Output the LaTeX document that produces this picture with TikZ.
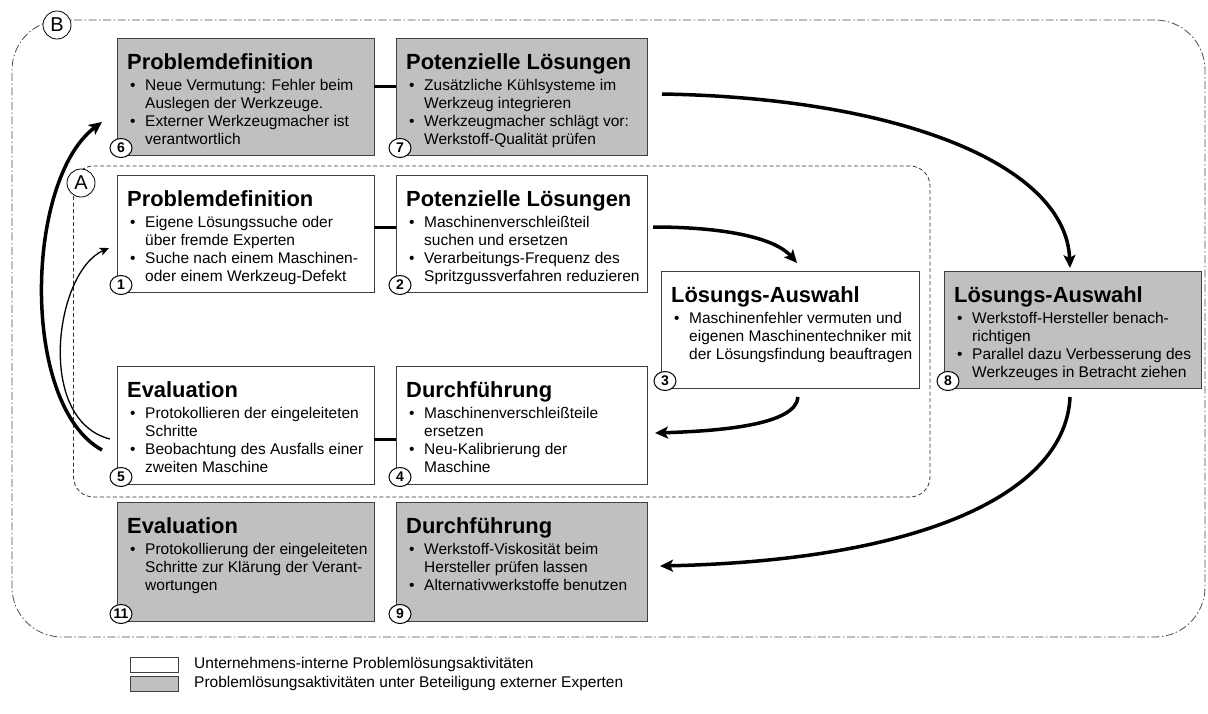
\documentclass[tikz,border=0pt]{standalone}
\usepackage{fontspec}
\setmainfont{Liberation Sans}
\usetikzlibrary{arrows.meta,shapes.geometric}
\newcommand{\tfont}{\fontsize{21.9}{24}\selectfont\bfseries}
\newcommand{\bfont}{\fontsize{15.5}{18}\selectfont}
\newcommand{\bul}{\hspace*{3pt}\makebox[15pt][l]{•}}
\newcommand{\cnt}{\hspace*{18pt}}
\newcommand{\mkbox}[9]{%
  \node[#6, minimum width=#4pt, minimum height=#5pt, anchor=north west] (#1) at (#2,#3) {};
  \node[anchor=base west, inner sep=0pt, font=\tfont] (#1t) at ([xshift=10pt,yshift=-31pt]#1.north west) {#7};
  \node[anchor=base west, inner sep=0pt] (#1b) at ([xshift=10pt,yshift=-52pt]#1.north west) {\parbox[t]{#4pt}{\bfont\raggedright #8}};
  \node[numc] (#1n) at ([xshift=4pt,yshift=7pt]#1.south west) {#9};
}
\definecolor{boxgray}{HTML}{C0C0C0}
\definecolor{edge}{HTML}{404040}
\begin{document}
\begin{tikzpicture}[x=1pt,y=-1pt,
  ibox/.style={draw=edge, fill=white, line width=1pt, inner sep=0pt, outer sep=0pt},
  ebox/.style={draw=edge, fill=boxgray, line width=1pt, inner sep=0pt, outer sep=0pt},
  numc/.style={ellipse, draw=black, fill=white, line width=1pt, minimum width=22pt, minimum height=19pt, inner sep=0pt, font=\fontsize{14}{14}\selectfont\bfseries},
  letc/.style={circle, draw=black, fill=white, line width=0.8pt, minimum size=28pt, inner sep=0pt, font=\fontsize{20}{20}\selectfont},
  regA/.style={draw=black!80, line width=0.8pt, dash pattern=on 4pt off 2.5pt, rounded corners=20pt, inner sep=0pt, outer sep=0pt},
  regB/.style={draw=black!70, line width=0.8pt, dash pattern=on 8pt off 2.5pt on 1.5pt off 2.5pt, rounded corners=50pt, inner sep=0pt, outer sep=0pt},
  conn/.style={line width=3pt},
  bigarrow/.style={line width=3.5pt, -{Stealth[length=13pt,width=12pt,inset=3pt]}},
  thinarrow/.style={line width=1.3pt, -{Stealth[length=9pt,width=8pt,inset=2pt]}},
  legtext/.style={anchor=west, inner sep=0pt, font=\bfont}
]
\useasboundingbox (0,0) rectangle (1208,713);

% regions
\node[regB, minimum width=1193pt, minimum height=617pt, anchor=north west] (B) at (12,20) {};
\node[regA, minimum width=856.5pt, minimum height=331pt, anchor=north west] (A) at (73.5,166) {};

% boxes
\mkbox{b6}{117}{38}{257}{117}{ebox}{Problemdefinition}{\bul Neue Vermutung: Fehler beim\\ \cnt Auslegen der Werkzeuge.\\ \bul Externer Werkzeugmacher ist\\ \cnt verantwortlich}{6}
\mkbox{b7}{396}{38}{251}{117}{ebox}{Potenzielle Lösungen}{\bul Zusätzliche Kühlsysteme im\\ \cnt Werkzeug integrieren\\ \bul Werkzeugmacher schlägt vor:\\ \cnt Werkstoff-Qualität prüfen}{7}
\mkbox{b1}{117}{175}{257}{117}{ibox}{Problemdefinition}{\bul Eigene Lösungssuche oder\\ \cnt über fremde Experten\\ \bul Suche nach einem Maschinen-\\ \cnt oder einem Werkzeug-Defekt}{1}
\mkbox{b2}{396}{175}{251}{117}{ibox}{Potenzielle Lösungen}{\bul Maschinenverschleißteil\\ \cnt suchen und ersetzen\\ \bul Verarbeitungs-Frequenz des\\ \cnt Spritzgussverfahren reduzieren}{2}
\mkbox{b3}{661}{271}{258}{117}{ibox}{Lösungs-Auswahl}{\bul Maschinenfehler vermuten und\\ \cnt eigenen Maschinentechniker mit\\ \cnt der Lösungsfindung beauftragen}{3}
\mkbox{b8}{944}{271}{257}{117}{ebox}{Lösungs-Auswahl}{\bul Werkstoff-Hersteller benach-\\ \cnt richtigen\\ \bul Parallel dazu Verbesserung des\\ \cnt Werkzeuges in Betracht ziehen}{8}
\mkbox{b5}{117}{366}{257}{118}{ibox}{Evaluation}{\bul Protokollieren der eingeleiteten\\ \cnt Schritte\\ \bul Beobachtung des Ausfalls einer\\ \cnt zweiten Maschine}{5}
\mkbox{b4}{396}{366}{251}{118}{ibox}{Durchführung}{\bul Maschinenverschleißteile\\ \cnt ersetzen\\ \bul Neu-Kalibrierung der\\ \cnt Maschine}{4}
\mkbox{b11}{117}{502}{257}{119}{ebox}{Evaluation}{\bul Protokollierung der eingeleiteten\\ \cnt Schritte zur Klärung der Verant-\\ \cnt wortungen}{11}
\mkbox{b9}{396}{502}{251}{119}{ebox}{Durchführung}{\bul Werkstoff-Viskosität beim\\ \cnt Hersteller prüfen lassen\\ \bul Alternativwerkstoffe benutzen}{9}

% region labels
\node[letc] (cB) at (57,25) {B};
\node[letc] (cA) at (81,183) {A};

% connectors between boxes
\draw[conn] ([yshift=10.5pt]b6.east) -- ([yshift=10.5pt]b7.west);
\draw[conn] ([yshift=6.5pt]b1.east) -- ([yshift=6.5pt]b2.west);
\draw[conn] ([yshift=-14pt]b5.east) -- ([yshift=-14pt]b4.west);

% arrow end points
\coordinate (s78) at (662,94);
\coordinate (e78) at (1070,268);
\coordinate (s23) at (653,227);
\coordinate (e23) at (797,263);
\coordinate (s34) at (798,397);
\coordinate (e34) at (655,433);
\coordinate (s89) at (1070,397);
\coordinate (e89) at (660,566);
\coordinate (s51) at (110,439);
\coordinate (e51) at (109,248);
\coordinate (s56) at (102,450);
\coordinate (e56) at (102,122);

\draw[bigarrow] (s78) .. controls (900,98) and (1066,165) .. (e78);
\draw[bigarrow] (s23) .. controls (725,227) and (775,238) .. (e23);
\draw[bigarrow] (s34) .. controls (796,425) and (720,431) .. (e34);
\draw[bigarrow] (s89) .. controls (1066,490) and (930,560) .. (e89);
\draw[thinarrow] (s51) .. controls (35,420) and (55,272) .. (e51);
\draw[bigarrow] (s56) .. controls (20,405) and (25,180) .. (e56);

% legend
\node[ibox, minimum width=48pt, minimum height=15pt, anchor=north west] (lg1) at (130,657) {};
\node[ebox, minimum width=48pt, minimum height=15pt, anchor=north west] (lg2) at (130,676) {};
\node[legtext] (lt1) at ([xshift=16pt]lg1.east) {Unternehmens-interne Problemlösungsaktivitäten};
\node[legtext] (lt2) at ([xshift=16pt]lg2.east) {Problemlösungsaktivitäten unter Beteiligung externer Experten};
\end{tikzpicture}
\end{document}
